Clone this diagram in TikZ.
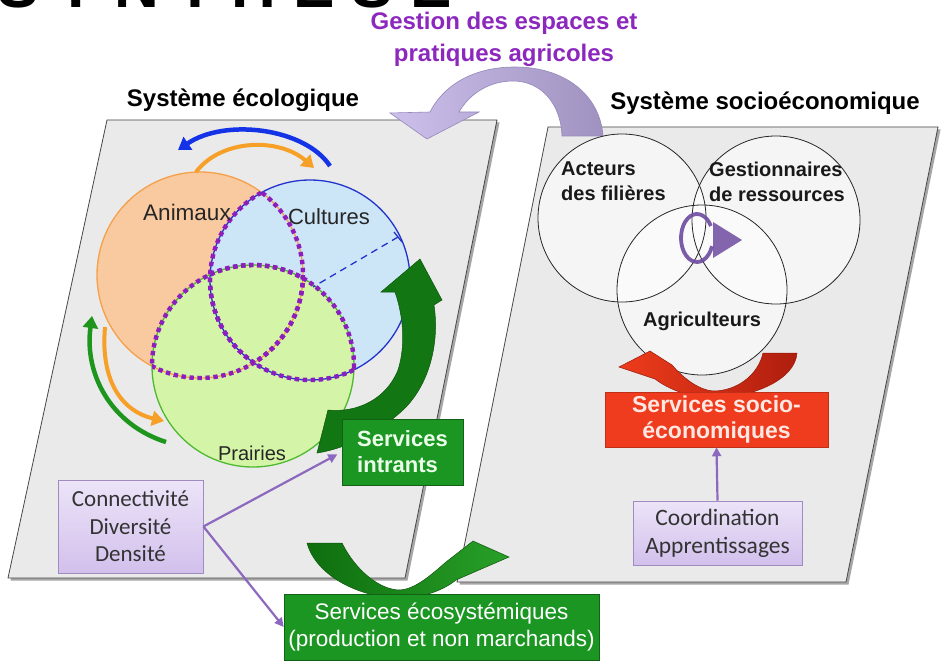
\documentclass[tikz,border=0pt]{standalone}
\usepackage{fontspec}
\setmainfont{Liberation Sans}
\newfontfamily\calfont{Carlito}
\usetikzlibrary{arrows.meta,shapes.geometric}
\definecolor{panelfill}{RGB}{234,234,234}
\definecolor{panelline}{RGB}{70,70,70}
\definecolor{orfill}{RGB}{249,201,160}
\definecolor{orline}{RGB}{245,160,74}
\definecolor{orarrow}{RGB}{247,160,40}
\definecolor{blfill}{RGB}{205,230,247}
\definecolor{blline}{RGB}{34,51,204}
\definecolor{blarrow}{RGB}{20,50,230}
\definecolor{grfill}{RGB}{212,245,168}
\definecolor{grline}{RGB}{80,184,48}
\definecolor{grarrow}{RGB}{30,150,30}
\definecolor{dotpurple}{RGB}{140,30,190}
\definecolor{boxgreen}{RGB}{27,150,34}
\definecolor{darkgreen}{RGB}{18,118,18}
\definecolor{lavtop}{RGB}{236,228,248}
\definecolor{lavbot}{RGB}{210,192,236}
\definecolor{lavline}{RGB}{160,140,192}
\definecolor{parrowc}{RGB}{140,105,190}
\definecolor{ptext}{RGB}{140,40,190}
\definecolor{redbox}{RGB}{240,60,30}
\definecolor{circp}{RGB}{110,75,160}
\tikzset{
  panel/.style={fill=panelfill, draw=panelline, line width=0.8pt},
  panelshadow/.style={fill=black!35},
  ecoline/.style={line width=1.3pt},
  dotp/.style={draw=dotpurple, line width=4.4pt, dash pattern=on 4.4pt off 3.6pt},
  ecolbl/.style={font=\fontsize{22}{24}\selectfont, text=black!85, inner sep=0},
  sociolbl/.style={font=\fontsize{20}{25}\selectfont\bfseries, align=left, text=black!90, inner sep=0},
  greenbox/.style={fill=boxgreen, draw=boxgreen!65!black, line width=0.6pt, inner sep=0},
  lavbox/.style={top color=lavtop, bottom color=lavbot, draw=lavline, line width=0.8pt, inner sep=0,
    font=\calfont\fontsize{23}{27.5}\selectfont, text=black!80, align=center},
  parrow/.style={draw=parrowc, line width=2.2pt, -{Triangle[length=9pt,width=9pt]}},
  ecoarrow/.style={line width=4.5pt, -{Triangle[length=12pt,width=15pt]}},
  title/.style={font=\fontsize{24}{28}\selectfont\bfseries, text=black, inner sep=0}
}
\begin{document}
\begin{tikzpicture}[x=1pt,y=-1pt]
\useasboundingbox (0,0) rectangle (941,663);
\fill[white] (0,0) rectangle (941,663);

% clipped heading fragment
\begin{scope}
  \clip (0,0) rectangle (480,9);
  \node[anchor=base west, inner sep=0, font=\fontsize{62}{62}\selectfont\bfseries] (heading) at (-3,8) {S Y N T H È S E};
\end{scope}

% panels
\fill[panelshadow] (109.5,122.5) -- (499.5,122.5) -- (407.5,580.5) -- (10.5,580.5) -- cycle;
\path[panel] (107,120) -- (497,120) -- (405,578) -- (8,578) -- cycle;
\fill[panelshadow] (550.5,129.5) -- (940.5,129.5) -- (848.5,584.5) -- (459.5,584.5) -- cycle;
\path[panel] (548,127) -- (938,127) -- (846,582) -- (457,582) -- cycle;

% titles
\node[font=\fontsize{24}{32}\selectfont\bfseries, text=ptext, align=center, inner sep=0] (gestion) at (504,39) {Gestion des espaces et\\pratiques agricoles};
\node[title] (ecot) at (243,100) {Système écologique};
\node[title] (sociot) at (765,103) {Système socioéconomique};

% top lavender curved arrow
\path[left color={rgb,255:red,205;green,192;blue,235}, right color={rgb,255:red,160;green,146;blue,192}, draw={rgb,255:red,150;green,135;blue,185}, line width=0.6pt]
  (603,136) .. controls (600,95) and (565,67) .. (515,67)
  .. controls (470,67) and (442,88) .. (430,112)
  -- (390,113) -- (427,139) -- (479,112) -- (459,112)
  .. controls (470,93) and (490,81) .. (513,81)
  .. controls (542,81) and (561,105) .. (562,136) -- cycle;

% ecological circles
\coordinate (cA) at (200,275);
\coordinate (cC) at (310,280);
\coordinate (cP) at (253,366);
\fill[orfill] (cA) circle[radius=103];
\fill[blfill] (cC) circle[radius=100];
\fill[grfill] (cP) circle[radius=101];
\draw[orline, ecoline] (cA) circle[radius=103];
\draw[blline, ecoline] (cC) circle[radius=100];
\draw[grline, ecoline] (cP) circle[radius=101];
\draw[blline, line width=1.3pt, dash pattern=on 7pt off 5pt] (398,237) -- (313,287);
\draw[blline, line width=1.3pt] (394,232) -- (402,242);
% dotted interior arcs
\begin{scope}\clip (cC) circle[radius=100]; \draw[dotp] (cA) circle[radius=103]; \end{scope}
\begin{scope}\clip (cP) circle[radius=101]; \draw[dotp] (cA) circle[radius=103]; \end{scope}
\begin{scope}\clip (cA) circle[radius=103]; \draw[dotp] (cC) circle[radius=100]; \end{scope}
\begin{scope}\clip (cP) circle[radius=101]; \draw[dotp] (cC) circle[radius=100]; \end{scope}
\begin{scope}\clip (cA) circle[radius=103]; \draw[dotp] (cP) circle[radius=101]; \end{scope}
\begin{scope}\clip (cC) circle[radius=100]; \draw[dotp] (cP) circle[radius=101]; \end{scope}

\node[ecolbl, font=\fontsize{22.5}{24}\selectfont] (animaux) at (187,212) {Animaux};
\node[ecolbl] (cultures) at (329,217) {Cultures};
\node[ecolbl, font=\fontsize{20}{24}\selectfont] (prairies) at (252,453) {Prairies};

% cycle arrows around
\draw[ecoarrow, draw=blarrow] (330,166) .. controls (305,128) and (225,118) .. (178,150);
\draw[ecoarrow, draw=orarrow, line width=4pt] (196,172) .. controls (222,138) and (280,138) .. (314,168);
\draw[ecoarrow, draw=grarrow] (166,442) .. controls (112,425) and (84,375) .. (92,316);
\draw[ecoarrow, draw=orarrow, line width=4pt] (105,327) .. controls (100,385) and (125,412) .. (164,421);

% services intrants curved arrow
\path[fill=darkgreen, draw=darkgreen!70!black, line width=0.5pt]
  (317,453) -- (328,410)
  .. controls (356,413) and (386,400) .. (398,370)
  .. controls (406,345) and (403,315) .. (395,292)
  -- (381,292) -- (420,259) -- (442,300) -- (434,305)
  .. controls (440,345) and (428,385) .. (405,408)
  .. controls (385,428) and (350,448) .. (317,453) -- cycle;

% right panel circles
\coordinate (cAct) at (622,218);
\coordinate (cGes) at (776,220);
\coordinate (cAgr) at (702,290);
\fill[white, opacity=0.55] (cAct) circle[radius=84];
\fill[white, opacity=0.55] (cGes) circle[radius=84];
\fill[white, opacity=0.55] (cAgr) circle[radius=85];
\draw[black!85, line width=0.8pt] (cAct) circle[radius=84];
\draw[black!85, line width=0.8pt] (cGes) circle[radius=84];
\draw[black!85, line width=0.8pt] (cAgr) circle[radius=85];
\node[sociolbl, anchor=north west] (acteurs) at (561,162) {Acteurs\\des filières};
\node[sociolbl, anchor=north west] (gestionnaires) at (709,162) {Gestionnaires\\de ressources};
\node[sociolbl] (agric) at (702,321) {Agriculteurs};

% purple circular arrow
\coordinate (cRot) at (697,238);
\draw[circp, line width=3.8pt, opacity=0.9] (cRot) ++(20:16 and 24) arc[start angle=20, end angle=330, x radius=16, y radius=24];
\fill[circp, opacity=0.85] (713,222) -- (742,240) -- (713,258) -- cycle;

% red curved arrow
\path[left color={rgb,255:red,238;green,60;blue,28}, right color={rgb,255:red,175;green,30;blue,14}, draw={rgb,255:red,150;green,25;blue,10}, line width=0.5pt]
  (797,353) .. controls (795,381) and (750,398) .. (713,398)
  .. controls (690,398) and (668,389) .. (655,379)
  -- (619,367) -- (650,351) -- (672,365)
  .. controls (685,380) and (700,390) .. (713,391)
  .. controls (737,391) and (758,375) .. (763,353) -- cycle;

% bottom U arrow
\path[left color={rgb,255:red,14;green,110;blue,14}, right color={rgb,255:red,40;green,160;blue,40}, draw=darkgreen!70!black, line width=0.5pt]
  (307,543) .. controls (316,576) and (360,598) .. (400,598)
  .. controls (425,598) and (445,589) .. (456,580)
  -- (509,557) -- (473,541) -- (446,562)
  .. controls (430,576) and (415,589) .. (400,590)
  .. controls (380,590) and (356,571) .. (342,543) -- cycle;

% boxes
\node[greenbox, minimum width=121pt, minimum height=66pt, align=left, text={rgb,255:red,235;green,255;blue,235},
  font=\fontsize{22}{26}\selectfont\bfseries] (intrants) at (402.5,452) {Services\\intrants};
\node[greenbox, minimum width=315pt, minimum height=66pt, align=center, text=white,
  font=\fontsize{22.5}{27}\selectfont] (ecosys) at (441.5,627) {Services écosystémiques\\(production et non marchands)};
\node[fill=redbox, draw=redbox!80!black, line width=0.5pt, inner sep=0, minimum width=223pt, minimum height=55pt, align=center,
  text={rgb,255:red,255;green,232;blue,226}, font=\fontsize{23}{26}\selectfont\bfseries] (socio) at (716.5,419.5) {Services socio-\\économiques};
\node[lavbox, minimum width=145pt, minimum height=93pt] (conn) at (130.5,526.5) {Connectivité\\Diversité\\Densité};
\node[lavbox, minimum width=169pt, minimum height=64pt, font=\calfont\fontsize{23.5}{28}\selectfont] (coord) at (717.5,533) {Coordination\\Apprentissages};

% purple connectors
\draw[parrow, shorten >=5pt] (conn.east) -- (intrants.west);
\draw[parrow] (conn.east) -- (ecosys.west);
\draw[parrow] (coord.north) -- (socio.south);
\end{tikzpicture}
\end{document}
